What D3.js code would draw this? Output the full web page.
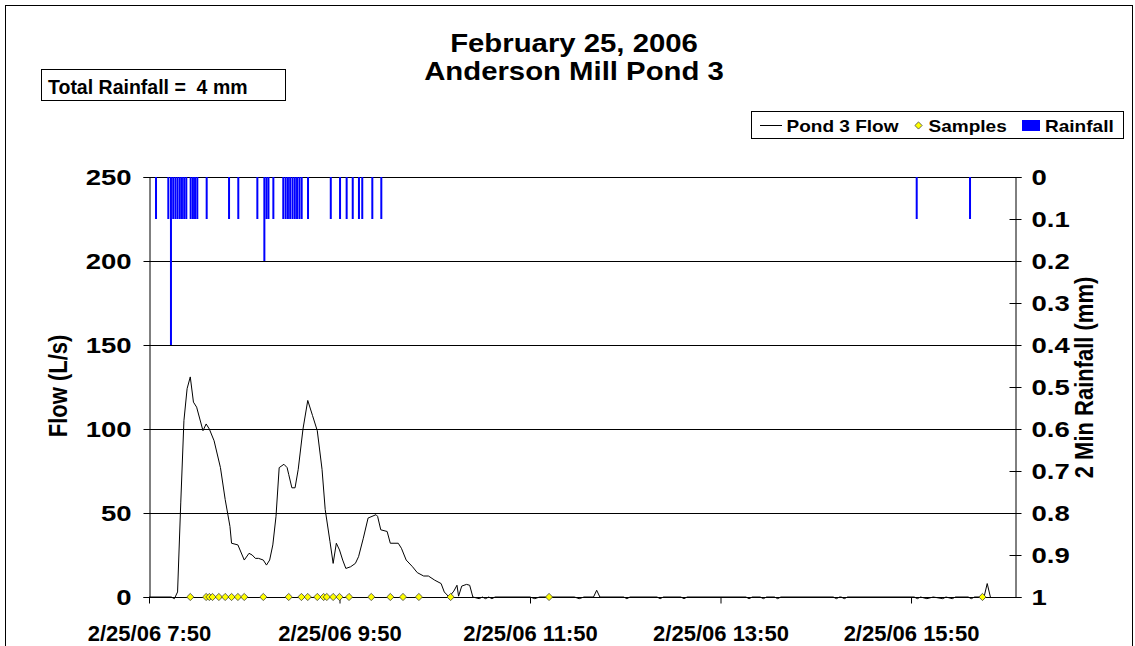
<!DOCTYPE html>
<html>
<head>
<meta charset="utf-8">
<script src="https://cdn.jsdelivr.net/npm/d3@7"></script>
<style>
  html, body { margin: 0; padding: 0; background: #fff; }
  svg { display: block; font-family: "Liberation Sans", Arial, sans-serif; font-weight: bold; }
  text { white-space: pre; }
</style>
</head>
<body>
<svg id="chart" width="1135" height="646"></svg>
<script>
// ---- Pond 3 flow (L/s), recorded on 2006-02-25 ----
const flowTimes = [
  "7:50","8:04","8:06","8:08","8:10","8:12","8:14","8:16","8:18","8:20",
  "8:24","8:26","8:28","8:31","8:35","8:38","8:41","8:42","8:46","8:50",
  "8:53","8:55","8:57","8:59","9:02","9:04","9:06","9:08","9:10","9:12",
  "9:15","9:17","9:18","9:20","9:22","9:24","9:27","9:30","9:33","9:36",
  "9:39","9:41","9:44","9:46","9:48","9:50","9:52","9:54","9:57","10:00",
  "10:02","10:05","10:08","10:13","10:14","10:16","10:20","10:22","10:27","10:29",
  "10:32","10:36","10:39","10:43","10:46","10:50","10:54","10:56","10:59","11:02",
  "11:04","11:05","11:07","11:10","11:12","11:14","11:18","11:20","11:22","11:24",
  "11:26","11:28","11:50","11:53","11:56","12:18","12:21","12:24","12:30","12:32",
  "12:34","12:49","12:51","12:53","13:10","13:12","13:14","13:25","13:27","13:29",
  "14:06","14:08","14:10","14:15","14:17","14:19","14:24","14:26","14:28","15:01",
  "15:03","15:05","15:06","15:08","15:10","15:52","15:54","15:56","16:00","16:04",
  "16:10","16:12","16:16","16:18","16:26","16:28","16:30","16:36","16:38","16:40"
];
const flowValues = [
  0, 0, -1, 3, 56, 105, 124, 131, 116, 113,
  99, 103, 100, 93, 77, 58, 42, 32, 31, 22,
  26, 25, 23, 23, 22, 19, 22, 31, 48, 77,
  79, 77, 73, 65, 65, 76, 100, 117, 108, 99,
  76, 52, 33, 20, 32, 28, 22, 17, 18, 20,
  24, 35, 47, 49, 48, 40, 39, 32, 32, 29,
  22, 18, 14.5, 12.5, 12.5, 10, 8, 3, 0, 3.5,
  7, 0.5, 6.5, 7.5, 7, 0, -1, 0, -1, 0,
  -1, 0, 0, -1, 0, 0, -1, 0, 0, 4,
  0, 0, -1, 0, 0, -1, 0, 0, -1, 0,
  0, -1, 0, 0, -1, 0, 0, -1, 0, 0,
  -1, 0, 0, -1, 0, 0, -1, 0, -1, 0,
  -1, 0, -1, 0, 0, -1, 0, 0, 8, 0
];

// ---- Sample collection times ----
const sampleTimes = [
  "8:16","8:26","8:28","8:30","8:34","8:38","8:42","8:46","8:50","9:02",
  "9:18","9:26","9:30","9:36","9:40","9:42","9:46","9:50","9:56","10:10",
  "10:22","10:30","10:40","11:00","12:02","16:35"
];

// ---- 2-minute rainfall (mm) ----
const rainTimes = [
  "7:54:25","8:02:10","8:03:50","8:05:15","8:06:40","8:08:00","8:09:25","8:10:45","8:12:10","8:13:30",
  "8:16:15","8:17:40","8:19:00","8:20:25","8:26:20","8:40:25","8:46:15","8:58:15","9:02:40","9:04:00",
  "9:05:15","9:08:20","9:14:35","9:16:05","9:17:30","9:18:55","9:20:25","9:21:50","9:23:15","9:24:45",
  "9:26:10","9:30:10","9:44:30","9:50:20","9:54:30","9:58:20","10:02:15","10:04:20","10:10:40","10:16:20",
  "15:53:35","16:27:10"
];
const rainValues = [
  0.1, 0.1, 0.4, 0.1, 0.1, 0.1, 0.1, 0.1, 0.1, 0.1,
  0.1, 0.1, 0.1, 0.1, 0.1, 0.1, 0.1, 0.1, 0.2, 0.1,
  0.1, 0.1, 0.1, 0.1, 0.1, 0.1, 0.1, 0.1, 0.1, 0.1,
  0.1, 0.1, 0.1, 0.1, 0.1, 0.1, 0.1, 0.1, 0.1, 0.1,
  0.1, 0.1
];

// ---- Axes ----
const flowTicks = [0, 50, 100, 150, 200, 250];
const rainTicks = [0, 0.1, 0.2, 0.3, 0.4, 0.5, 0.6, 0.7, 0.8, 0.9, 1];
const timeTicks = ["7:50", "9:50", "11:50", "13:50", "15:50"];
const timeStart = "7:50";
const timeEnd = "16:55:30";

const titleLines = ["February 25, 2006", "Anderson Mill Pond 3"];
const totalRainText = "Total Rainfall =  4 mm";
const legendLabels = ["Pond 3 Flow", "Samples", "Rainfall"];

// ---------------------------------------------------------------
const parseTime = s => {
  const [h, m, sec] = s.split(":").map(Number);
  return new Date(2006, 1, 25, h, m, sec || 0);
};

const svg = d3.select("#chart");
const plot = { left: 149, right: 1015, top: 177, bottom: 597 };

const x = d3.scaleTime()
  .domain([parseTime(timeStart), parseTime(timeEnd)])
  .range([plot.left, plot.right]);
const yFlow = d3.scaleLinear().domain([0, 250]).range([plot.bottom, plot.top]);
const yRain = d3.scaleLinear().domain([0, 1]).range([plot.top, plot.bottom]);

// horizontally widened bold text
function wideText(g, txt, px, py, size, sx, anchor, rot) {
  return g.append("text")
    .attr("transform", `translate(${px},${py}) scale(${sx},1)` + (rot ? ` rotate(${rot})` : ""))
    .attr("text-anchor", anchor || "start")
    .style("font-size", size + "px")
    .attr("fill", "#000")
    .text(txt);
}

// outer frame
svg.append("rect")
  .attr("x", 5.5).attr("y", 5.5)
  .attr("width", 1127).attr("height", 680)
  .attr("fill", "none").attr("stroke", "#000").attr("stroke-width", 1);

// title
wideText(svg, titleLines[0], 574, 52, 25.5, 1.15, "middle");
wideText(svg, titleLines[1], 574, 79.5, 25.5, 1.15, "middle");

// total rainfall box
svg.append("rect")
  .attr("x", 41.5).attr("y", 69.5).attr("width", 244).attr("height", 31)
  .attr("fill", "#fff").attr("stroke", "#000").attr("stroke-width", 1);
wideText(svg, totalRainText, 48, 94, 19.5, 1.0, "start");

// gridlines
svg.append("g")
  .selectAll("line")
  .data(flowTicks.filter(d => d > 0))
  .join("line")
  .attr("x1", plot.left).attr("x2", plot.right)
  .attr("y1", d => Math.round(yFlow(d)) + 0.5)
  .attr("y2", d => Math.round(yFlow(d)) + 0.5)
  .attr("stroke", "#000").attr("stroke-width", 1);

// rainfall bars hanging from the top
svg.append("g")
  .selectAll("rect")
  .data(rainTimes.map((t, i) => ({ t: parseTime(t), v: rainValues[i] })))
  .join("rect")
  .attr("x", d => x(d.t) - 1)
  .attr("y", yRain(0))
  .attr("width", 2)
  .attr("height", d => yRain(d.v) - yRain(0))
  .attr("fill", "#0000FF");

// left axis
const leftAxis = svg.append("g")
  .attr("transform", `translate(${plot.left + 0.5},0)`)
  .call(d3.axisLeft(yFlow).tickValues(flowTicks).tickSize(6).tickPadding(0).tickFormat(d3.format("d")));
leftAxis.select(".domain").attr("stroke", "#000");
leftAxis.selectAll(".tick line").attr("stroke", "#000");
leftAxis.selectAll(".tick text")
  .attr("x", -18 / 1.25).attr("dy", "0.36em")
  .attr("transform", "scale(1.25,1)")
  .style("font-size", "22px").attr("fill", "#000");

// right axis (rainfall, inverted)
const rightAxis = svg.append("g")
  .attr("transform", `translate(${plot.right + 0.5},0)`)
  .call(d3.axisRight(yRain).tickValues(rainTicks).tickSize(6).tickPadding(0)
    .tickFormat(d => d === 0 || d === 1 ? d3.format("d")(d) : d3.format(".1f")(d)));
rightAxis.select(".domain").attr("stroke", "#000");
rightAxis.selectAll(".tick line").attr("stroke", "#000").attr("x1", -6).attr("x2", 6);
rightAxis.selectAll(".tick text")
  .attr("x", 16 / 1.25).attr("dy", "0.36em")
  .attr("transform", "scale(1.25,1)")
  .style("font-size", "22px").attr("fill", "#000");

// bottom axis
const bottomAxis = svg.append("g")
  .attr("transform", `translate(0,${plot.bottom + 0.5})`)
  .call(d3.axisBottom(x).tickValues(timeTicks.map(parseTime)).tickSize(6).tickPadding(22)
    .tickFormat(d => "2/25/06 " + d3.timeFormat("%-H:%M")(d)));
bottomAxis.select(".domain").attr("stroke", "#000").attr("d", `M${plot.left},0H${plot.right}`);
bottomAxis.selectAll(".tick line").attr("stroke", "#000");
bottomAxis.selectAll(".tick text")
  .style("font-size", "22px").attr("fill", "#000");

// flow line
const flowData = flowTimes.map((t, i) => ({ t: parseTime(t), v: flowValues[i] }));
svg.append("path")
  .datum(flowData)
  .attr("d", d3.line().x(d => x(d.t)).y(d => yFlow(d.v)))
  .attr("fill", "none").attr("stroke", "#000").attr("stroke-width", 1);

// sample markers
const diamond = d3.symbol().type(d3.symbolSquare).size(26);
svg.append("g")
  .selectAll("path")
  .data(sampleTimes.map(parseTime))
  .join("path")
  .attr("d", diamond)
  .attr("transform", d => `translate(${x(d)},${yFlow(0)}) rotate(45)`)
  .attr("fill", "#FFFF00").attr("stroke", "#333").attr("stroke-width", 0.7);

// axis titles
wideText(svg, "Flow (L/s)", 57.5, 386, 22, 1.2, "middle", -90).attr("dy", "0.35em");
wideText(svg, "2 Min Rainfall (mm)", 1084, 377.5, 22, 1.2, "middle", -90).attr("dy", "0.35em");

// legend
const lg = svg.append("g");
lg.append("rect")
  .attr("x", 751.5).attr("y", 111.5).attr("width", 372).attr("height", 27)
  .attr("fill", "#fff").attr("stroke", "#000").attr("stroke-width", 1);
lg.append("line").attr("x1", 760).attr("x2", 782).attr("y1", 125.5).attr("y2", 125.5)
  .attr("stroke", "#000").attr("stroke-width", 1);
wideText(lg, legendLabels[0], 786.5, 131.5, 17, 1.12, "start");
lg.append("path").attr("d", diamond)
  .attr("transform", "translate(918.5,125.5) rotate(45)")
  .attr("fill", "#FFFF00").attr("stroke", "#333").attr("stroke-width", 0.7);
wideText(lg, legendLabels[1], 928.5, 131.5, 17, 1.12, "start");
lg.append("rect").attr("x", 1022).attr("y", 120).attr("width", 18).attr("height", 11)
  .attr("fill", "#0000FF");
wideText(lg, legendLabels[2], 1045, 131.5, 17, 1.12, "start");
</script>
</body>
</html>
